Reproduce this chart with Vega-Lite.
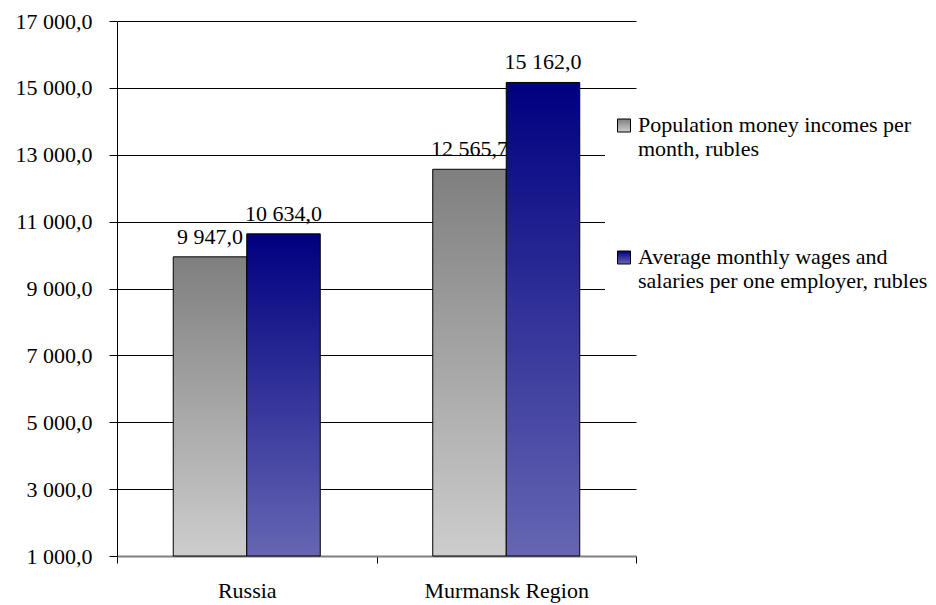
{
  "$schema": "https://vega.github.io/schema/vega-lite/v6.json",
  "width": 519,
  "height": 535,
  "autosize": {"type": "none"},
  "padding": {"left": 117, "top": 21, "right": 300, "bottom": 49},
  "background": "white",
  "config": {
    "locale": {"number": {"decimal": ",", "thousands": " ", "grouping": [3], "currency": ["", ""]}},
    "font": "Liberation Serif",
    "view": {"stroke": null}
  },
  "data": {
    "values": [
      {"region": "Russia", "series": "Population money incomes per month, rubles", "value": 9947.0},
      {"region": "Russia", "series": "Average monthly wages and salaries per one employer, rubles", "value": 10634.0},
      {"region": "Murmansk Region", "series": "Population money incomes per month, rubles", "value": 12565.7},
      {"region": "Murmansk Region", "series": "Average monthly wages and salaries per one employer, rubles", "value": 15162.0}
    ]
  },
  "encoding": {
    "x": {
      "field": "region",
      "type": "nominal",
      "sort": ["Russia", "Murmansk Region"],
      "scale": {"paddingInner": 0, "paddingOuter": 0},
      "axis": {
        "title": null,
        "labelAngle": 0,
        "tickBand": "extent",
        "grid": false,
        "domainColor": "#808080",
        "domainWidth": 2,
        "tickColor": "black",
        "tickSize": 7,
        "labelPadding": 17,
        "labelFontSize": 22,
        "labelFont": "Liberation Serif",
        "labelColor": "black"
      }
    },
    "xOffset": {
      "field": "series",
      "type": "nominal",
      "sort": ["Population money incomes per month, rubles", "Average monthly wages and salaries per one employer, rubles"],
      "scale": {"paddingInner": 0, "paddingOuter": 0.765}
    },
    "y": {
      "field": "value",
      "type": "quantitative",
      "scale": {"domain": [1000, 17000], "nice": false, "zero": false},
      "axis": {
        "title": null,
        "values": [1000, 3000, 5000, 7000, 9000, 11000, 13000, 15000, 17000],
        "format": ",.1f",
        "grid": true,
        "gridColor": "black",
        "gridOpacity": 1,
        "gridWidth": 1,
        "domainColor": "black",
        "tickColor": "black",
        "tickSize": 8,
        "labelPadding": 17,
        "labelFontSize": 22,
        "labelFont": "Liberation Serif",
        "labelColor": "black"
      }
    }
  },
  "layer": [
    {
      "mark": {"type": "bar", "stroke": "black", "strokeWidth": 1},
      "encoding": {
        "y2": {"datum": 1000},
        "color": {
          "field": "series",
          "type": "nominal",
          "sort": ["Population money incomes per month, rubles", "Average monthly wages and salaries per one employer, rubles"],
          "scale": {
            "range": [
              {"expr": "{gradient: 'linear', x1: 0, y1: 0, x2: 0, y2: 1, stops: [{offset: 0, color: '#7f7f7f'}, {offset: 1, color: '#cdcdcd'}]}"},
              {"expr": "{gradient: 'linear', x1: 0, y1: 0, x2: 0, y2: 1, stops: [{offset: 0, color: '#000080'}, {offset: 1, color: '#6666b3'}]}"}
            ]
          },
          "legend": {
            "title": null,
            "orient": "none",
            "legendX": 488,
            "legendY": 92,
            "padding": 8,
            "fillColor": "white",
            "symbolType": "M-1,-2H1V0H-1Z",
            "symbolSize": 169,
            "symbolStrokeColor": "black",
            "symbolStrokeWidth": 1,
            "labelFontSize": 22,
            "labelFont": "Liberation Serif",
            "labelColor": "black",
            "labelBaseline": "alphabetic",
            "labelLimit": 400,
            "labelOffset": 3,
            "rowPadding": 86,
            "labelExpr": "datum.label == 'Population money incomes per month, rubles' ? ['Population money incomes per', 'month, rubles'] : ['Average monthly wages and', 'salaries per one employer, rubles']"
          }
        }
      }
    },
    {
      "mark": {"type": "text", "baseline": "alphabetic", "dy": -13, "fontSize": 22, "font": "Liberation Serif", "color": "black"},
      "encoding": {
        "text": {"field": "value", "type": "quantitative", "format": ",.1f"}
      }
    }
  ]
}
